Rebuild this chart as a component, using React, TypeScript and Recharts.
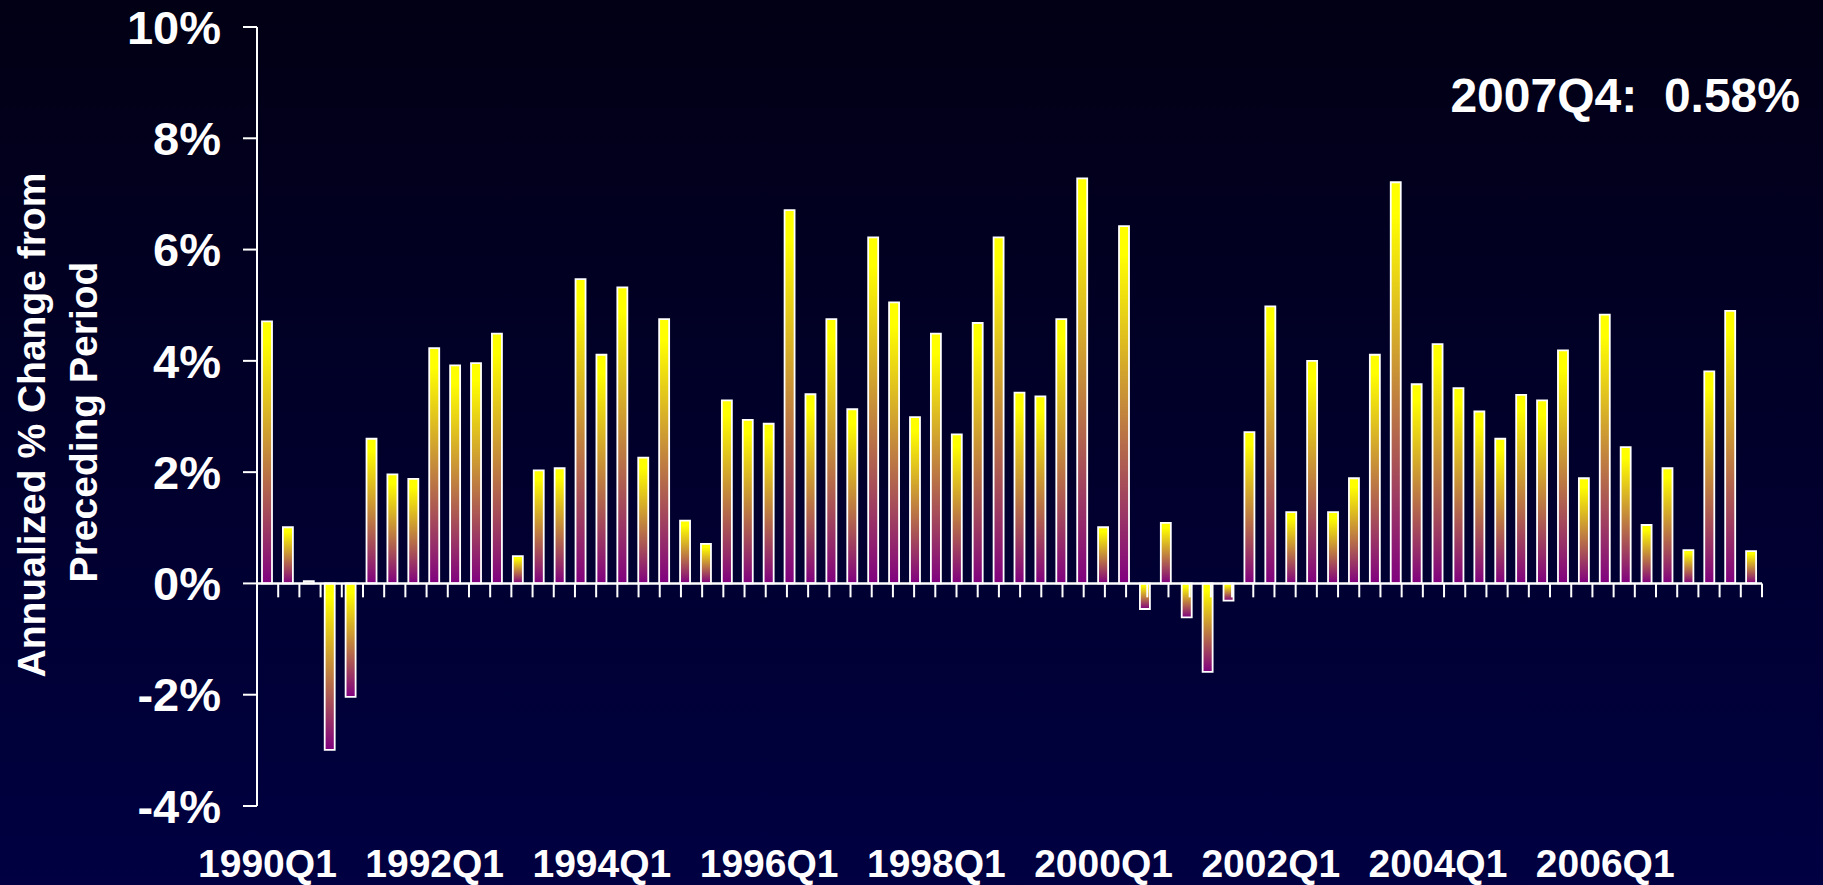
import React from "react";
import {
  BarChart,
  Bar,
  XAxis,
  YAxis,
  ReferenceLine,
  Label,
} from "recharts";

// quarterly categories, 1990Q1 .. 2007Q4
const years = [
  1990, 1991, 1992, 1993, 1994, 1995, 1996, 1997, 1998, 1999, 2000, 2001,
  2002, 2003, 2004, 2005, 2006, 2007,
];
const quarterNames = ["Q1", "Q2", "Q3", "Q4"];
const quarters = years.flatMap((y) => quarterNames.map((q) => `${y}${q}`));

// annualized % change from preceding period
const growth = [
  4.71, 1.01, 0.04, -2.99, -2.04, 2.6, 1.96, 1.88, 4.23, 3.92, 3.96, 4.49,
  0.49, 2.03, 2.07, 5.47, 4.11, 5.32, 2.26, 4.75, 1.13, 0.71, 3.29, 2.94,
  2.87, 6.71, 3.4, 4.75, 3.13, 6.22, 5.05, 2.99, 4.49, 2.68, 4.68, 6.22,
  3.43, 3.36, 4.75, 7.28, 1.01, 6.42, -0.46, 1.09, -0.61, -1.59, -0.31, 2.72,
  4.98, 1.28, 4.0, 1.28, 1.89, 4.11, 7.21, 3.58, 4.3, 3.51, 3.09, 2.6,
  3.39, 3.29, 4.19, 1.89, 4.83, 2.45, 1.05, 2.07, 0.6, 3.81, 4.9, 0.58,
];

const yTicks = [-4, -2, 0, 2, 4, 6, 8, 10];
const latestLabel = "2007Q4:  0.58%";

const FONT = "'Liberation Sans', Arial, Helvetica, sans-serif";

const data = quarters.map((q, i) => ({ q, v: growth[i] }));
const boundaries = quarters.map((_, i) => i + 1);

function QuarterTick(props: any) {
  const { x, y, payload } = props;
  return (
    <text
      x={x}
      y={y + 71}
      textAnchor="middle"
      fill="#ffffff"
      fontSize={39}
      fontWeight="bold"
      fontFamily={FONT}
    >
      {payload.value}
    </text>
  );
}

function YTitle() {
  return (
    <g fill="#ffffff" fontSize={39} fontWeight="bold" fontFamily={FONT}>
      <text x={45} y={425} textAnchor="middle" transform="rotate(-90 45 425)">
        Annualized % Change from
      </text>
      <text x={97} y={422} textAnchor="middle" transform="rotate(-90 97 422)">
        Preceding Period
      </text>
    </g>
  );
}

export default function App() {
  return (
    <div
      style={{
        position: "absolute",
        top: 0,
        left: 0,
        width: 1823,
        height: 885,
        background: "linear-gradient(to bottom, #020014 0%, #01002b 50%, #000042 100%)",
        fontFamily: FONT,
      }}
    >
      <BarChart
        width={1823}
        height={885}
        data={data}
        margin={{ top: 27, right: 61, bottom: 0, left: 0 }}
      >
        <defs>
          <linearGradient id="barFill" x1="0" y1="0" x2="0" y2="1">
            <stop offset="0" stopColor="#ffff00" />
            <stop offset="0.08" stopColor="#ffff00" />
            <stop offset="1" stopColor="#800080" />
          </linearGradient>
        </defs>
        <XAxis
          dataKey="q"
          interval={7}
          height={79}
          axisLine={false}
          tickLine={false}
          tickSize={0}
          tickMargin={0}
          tick={<QuarterTick />}
        />
        <XAxis xAxisId="grid" type="number" domain={[0, 72]} hide />
        <YAxis
          width={257}
          domain={[-4, 10]}
          ticks={yTicks}
          interval={0}
          tickFormatter={(v) => `${v}%`}
          axisLine={{ stroke: "#ffffff", strokeWidth: 2 }}
          tickLine={{ stroke: "#ffffff", strokeWidth: 2 }}
          tickSize={14}
          tickMargin={22}
          tick={{
            fill: "#ffffff",
            fontSize: 47,
            fontWeight: "bold",
            fontFamily: FONT,
          }}
        >
          <Label content={<YTitle />} />
        </YAxis>
        <Bar
          dataKey="v"
          barSize={10}
          fill="url(#barFill)"
          stroke="#ffffff"
          strokeWidth={1.8}
          isAnimationActive={false}
        />
        <ReferenceLine y={0} stroke="#ffffff" strokeWidth={2.5} />
        {boundaries.map((b) => (
          <ReferenceLine
            key={b}
            xAxisId="grid"
            segment={[
              { x: b, y: 0 },
              { x: b, y: -0.25 },
            ]}
            stroke="#ffffff"
            strokeWidth={2}
          />
        ))}
      </BarChart>
      <div
        style={{
          position: "absolute",
          right: 23,
          top: 72,
          color: "#ffffff",
          fontSize: 48,
          lineHeight: "48px",
          fontWeight: "bold",
          whiteSpace: "pre",
        }}
      >
        {latestLabel}
      </div>
    </div>
  );
}
